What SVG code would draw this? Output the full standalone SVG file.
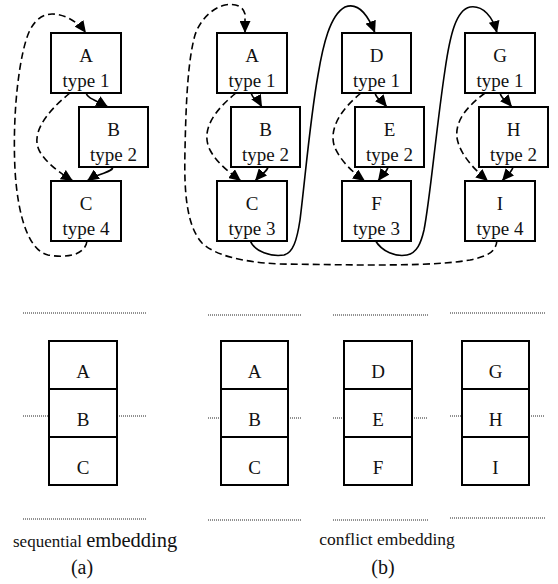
<svg xmlns="http://www.w3.org/2000/svg" width="558" height="584" viewBox="0 0 558 584">
<style>
.box{fill:#fff;stroke:#000;stroke-width:2}
.t{font-family:"Liberation Serif","Times New Roman",serif;font-size:19px;text-anchor:middle;fill:#111}
.c{fill:none;stroke:#000;stroke-width:1.6}
.d{stroke-dasharray:7,4}
.dot{stroke:#222;stroke-width:1;stroke-dasharray:1,1;fill:none}
.cap{font-family:"Liberation Serif","Times New Roman",serif;fill:#111}
</style>
<defs>
<marker id="ah" markerUnits="userSpaceOnUse" markerWidth="13" markerHeight="11" refX="12" refY="5.5" orient="auto">
<path d="M0,0 L12,5.5 L0,11 Z" fill="#000"/>
</marker>
</defs>
<rect width="558" height="584" fill="#fff"/>

<g id="connectors">
<!-- (a) -->
<path class="c d" d="M 70,93 C 45,113 30,135 40,152 C 48,165 62,174 73,181" marker-end="url(#ah)"/>
<path class="c" d="M 86,93 C 88,99 96,100 108,107" marker-end="url(#ah)"/>
<path class="c" d="M 113,167 C 112,173 100,172 87,181" marker-end="url(#ah)"/>
<path class="c d" d="M 87,241 C 85,256 65,258 48,255 C 30,251 18,220 15,170 C 12,110 20,50 30,30 C 36,18 45,14 52,14 C 65,14 78,22 86,33" marker-end="url(#ah)"/>
<!-- (b) group 1 -->
<path class="c d" d="M 236,93 C 215,110 200,130 210,150 C 218,165 232,174 241,181" marker-end="url(#ah)"/>
<path class="c" d="M 251,93 C 253,100 258,100 262,107" marker-end="url(#ah)"/>
<path class="c" d="M 268,167 C 267,172 262,173 255,181" marker-end="url(#ah)"/>
<path class="c d" d="M 497,240 C 496,252 488,256 470,260 C 440,265 400,265 360,265 L 280,264 C 240,262 215,255 202,243 C 186,225 184,190 185,150 C 186,100 188,60 195,35 C 200,20 212,8 225,5 C 235,3 243,6 245,14 L 245,33" marker-end="url(#ah)"/>
<path class="c" d="M 250,240 C 254,252 272,257 284,255 C 293,253 297,240 300,220 C 305,180 310,120 318,75 C 323,45 330,15 345,7 C 358,2 368,15 375,33" marker-end="url(#ah)"/>
<!-- (b) group 2 -->
<path class="c d" d="M 361,93 C 340,110 328,130 335,148 C 342,163 355,174 365,181" marker-end="url(#ah)"/>
<path class="c" d="M 375,93 C 377,100 382,101 387,107" marker-end="url(#ah)"/>
<path class="c" d="M 388,167 C 387,172 383,174 378,181" marker-end="url(#ah)"/>
<path class="c" d="M 375,240 C 382,252 396,257 407,255 C 417,253 421,243 424,230 C 430,200 436,130 445,70 C 450,35 456,10 470,7 C 483,5 493,17 497,33" marker-end="url(#ah)"/>
<!-- (b) group 3 -->
<path class="c d" d="M 485,93 C 465,108 455,122 457,138 C 460,155 475,170 488,181" marker-end="url(#ah)"/>
<path class="c" d="M 500,93 C 502,100 507,101 512,107" marker-end="url(#ah)"/>
<path class="c" d="M 513,167 C 512,172 508,174 502,181" marker-end="url(#ah)"/>
</g>

<g id="a-A"><rect class="box" x="51" y="33" width="70" height="60"/><text class="t" x="86" y="62">A</text><text class="t" x="86" y="87">type 1</text></g>
<g id="a-B"><rect class="box" x="79" y="107" width="69" height="60"/><text class="t" x="113.5" y="136">B</text><text class="t" x="113.5" y="161">type 2</text></g>
<g id="a-C"><rect class="box" x="51" y="181" width="70" height="60"/><text class="t" x="86" y="210">C</text><text class="t" x="86" y="235">type 4</text></g>

<g id="b-A"><rect class="box" x="217" y="33" width="70" height="60"/><text class="t" x="252" y="62">A</text><text class="t" x="252" y="87">type 1</text></g>
<g id="b-B"><rect class="box" x="231" y="107" width="69" height="60"/><text class="t" x="265.5" y="136">B</text><text class="t" x="265.5" y="161">type 2</text></g>
<g id="b-C"><rect class="box" x="217" y="181" width="70" height="60"/><text class="t" x="252" y="210">C</text><text class="t" x="252" y="235">type 3</text></g>

<g id="b-D"><rect class="box" x="342" y="33" width="69" height="60"/><text class="t" x="376.5" y="62">D</text><text class="t" x="376.5" y="87">type 1</text></g>
<g id="b-E"><rect class="box" x="355" y="107" width="69" height="60"/><text class="t" x="389.5" y="136">E</text><text class="t" x="389.5" y="161">type 2</text></g>
<g id="b-F"><rect class="box" x="342" y="181" width="69" height="60"/><text class="t" x="376.5" y="210">F</text><text class="t" x="376.5" y="235">type 3</text></g>

<g id="b-G"><rect class="box" x="465" y="33" width="70" height="60"/><text class="t" x="500" y="62">G</text><text class="t" x="500" y="87">type 1</text></g>
<g id="b-H"><rect class="box" x="479" y="107" width="69" height="60"/><text class="t" x="513.5" y="136">H</text><text class="t" x="513.5" y="161">type 2</text></g>
<g id="b-I"><rect class="box" x="465" y="181" width="70" height="60"/><text class="t" x="500" y="210">I</text><text class="t" x="500" y="235">type 4</text></g>

<!-- bottom stacks -->
<g id="stack-a">
<path class="dot" d="M23,313 H146 M23,416 H49 M117,416 H146 M23,519 H146"/>
<rect class="box" x="49" y="341" width="68" height="144"/>
<path d="M49,389 H117 M49,437 H117" stroke="#000" stroke-width="2"/>
<text class="t" x="83" y="378">A</text><text class="t" x="83" y="426">B</text><text class="t" x="83" y="474">C</text>
</g>
<g id="stack-b1">
<path class="dot" d="M208,315 H302 M208,418 H221 M288,418 H302 M208,520 H302"/>
<rect class="box" x="221" y="341" width="67" height="144"/>
<path d="M221,389 H288 M221,437 H288" stroke="#000" stroke-width="2"/>
<text class="t" x="254.5" y="378">A</text><text class="t" x="254.5" y="426">B</text><text class="t" x="254.5" y="474">C</text>
</g>
<g id="stack-b2">
<path class="dot" d="M333,315 H428 M333,418 H344 M412,418 H428 M333,520 H428"/>
<rect class="box" x="344" y="341" width="68" height="144"/>
<path d="M344,389 H412 M344,437 H412" stroke="#000" stroke-width="2"/>
<text class="t" x="378" y="378">D</text><text class="t" x="378" y="426">E</text><text class="t" x="378" y="474">F</text>
</g>
<g id="stack-b3">
<path class="dot" d="M450,313 H545 M450,416 H462 M529,416 H545 M450,518 H545"/>
<rect class="box" x="462" y="341" width="67" height="144"/>
<path d="M462,389 H529 M462,437 H529" stroke="#000" stroke-width="2"/>
<text class="t" x="495.5" y="378">G</text><text class="t" x="495.5" y="426">H</text><text class="t" x="495.5" y="474">I</text>
</g>

<g id="captions">
<text class="cap" x="13" y="547" font-size="17">sequential <tspan font-size="20.5">embedding</tspan></text>
<text class="cap" x="82" y="574" font-size="20" text-anchor="middle">(a)</text>
<text class="cap" x="387" y="545" font-size="17.5" text-anchor="middle">conflict embedding</text>
<text class="cap" x="383" y="574" font-size="20" text-anchor="middle">(b)</text>
</g>
</svg>
